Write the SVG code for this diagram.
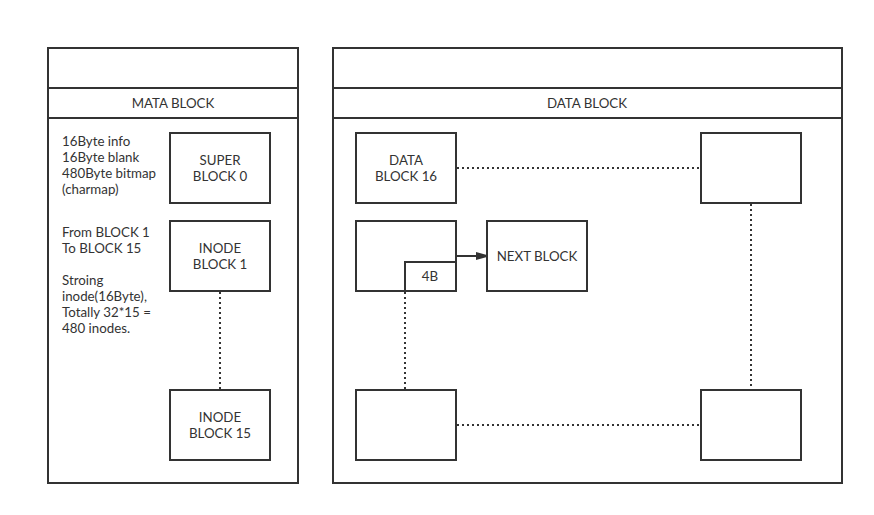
<svg xmlns="http://www.w3.org/2000/svg" width="874" height="515" viewBox="0 0 874 515">
<defs>
<style>
.b{fill:#fff;stroke:#333;stroke-width:2}
.l{fill:none;stroke:#333;stroke-width:2}
.d{fill:none;stroke:#333;stroke-width:2;stroke-dasharray:2 3}
text{font-family:Lato,"Liberation Sans",sans-serif;font-size:13.3px;fill:#333}
.c{text-anchor:middle}
</style>
<marker id="ar" markerWidth="10" markerHeight="8" refX="10" refY="4" orient="auto" markerUnits="userSpaceOnUse">
<path d="M0,0 L14,4 L0,8 z" fill="#333"/>
</marker>
</defs>
<rect width="874" height="515" fill="#fff"/>
<g id="mata-panel">
<rect class="b" x="48" y="48" width="250" height="435"/>
<line class="l" x1="48" y1="88" x2="298" y2="88"/>
<line class="l" x1="48" y1="118" x2="298" y2="118"/>
<text class="c" x="173" y="108">MATA BLOCK</text>
<text x="62" y="146">16Byte info</text>
<text x="62" y="162">16Byte blank</text>
<text x="62" y="178">480Byte bitmap</text>
<text x="62" y="194">(charmap)</text>
<text x="62" y="237">From BLOCK 1</text>
<text x="62" y="253">To BLOCK 15</text>
<text x="62" y="285">Stroing</text>
<text x="62" y="301">inode(16Byte),</text>
<text x="62" y="317">Totally 32*15 =</text>
<text x="62" y="333">480 inodes.</text>
</g>
<g id="data-panel">
<rect class="b" x="333" y="48" width="509" height="435"/>
<line class="l" x1="333" y1="88" x2="842" y2="88"/>
<line class="l" x1="333" y1="118" x2="842" y2="118"/>
<text class="c" x="587" y="108">DATA BLOCK</text>
</g>
<g id="connectors">
<line class="d" x1="220" y1="292" x2="220" y2="389"/>
<line class="d" x1="457" y1="168" x2="700" y2="168"/>
<line class="d" x1="751" y1="204" x2="751" y2="389"/>
<line class="d" x1="457" y1="425" x2="700" y2="425"/>
<line class="d" x1="405" y1="292" x2="405" y2="389"/>
<line class="l" x1="457" y1="256" x2="486" y2="256" marker-end="url(#ar)"/>
</g>
<g id="super-block-0">
<rect class="b" x="170" y="133" width="100" height="70"/>
<text class="c" x="220" y="165">SUPER</text>
<text class="c" x="220" y="181">BLOCK 0</text>
</g>
<g id="inode-block-1">
<rect class="b" x="170" y="221" width="100" height="70"/>
<text class="c" x="220" y="253">INODE</text>
<text class="c" x="220" y="269">BLOCK 1</text>
</g>
<g id="inode-block-15">
<rect class="b" x="170" y="390" width="100" height="70"/>
<text class="c" x="220" y="422">INODE</text>
<text class="c" x="220" y="438">BLOCK 15</text>
</g>
<g id="data-block-16">
<rect class="b" x="356" y="133" width="100" height="70"/>
<text class="c" x="406" y="165">DATA</text>
<text class="c" x="406" y="181">BLOCK 16</text>
</g>
<g id="block-top-right">
<rect class="b" x="701" y="133" width="100" height="70"/>
</g>
<g id="block-middle">
<rect class="b" x="356" y="221" width="100" height="70"/>
</g>
<g id="ptr-4b">
<rect class="b" x="405" y="262" width="51" height="29"/>
<text class="c" x="430" y="281">4B</text>
</g>
<g id="next-block">
<rect class="b" x="487" y="221" width="100" height="70"/>
<text class="c" x="537" y="261">NEXT BLOCK</text>
</g>
<g id="block-bottom-left">
<rect class="b" x="356" y="390" width="100" height="70"/>
</g>
<g id="block-bottom-right">
<rect class="b" x="701" y="390" width="100" height="70"/>
</g>
</svg>
